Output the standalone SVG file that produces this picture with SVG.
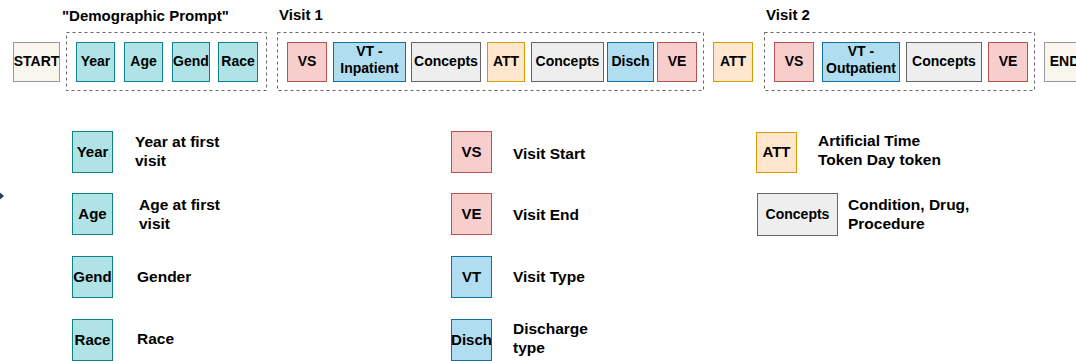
<svg xmlns="http://www.w3.org/2000/svg" width="1076" height="361" viewBox="0 0 1076 361">
<style>
text{font-family:"Liberation Sans",Arial,sans-serif;font-weight:bold;fill:#000}
.lbl{font-size:14px;text-anchor:middle}
.leg{font-size:15px;text-anchor:middle}
.title{font-size:15px}
.desc{font-size:15.5px}
.grp{fill:none;stroke:#666;stroke-width:1;stroke-dasharray:3 3}
.teal{fill:#b0e3e6;stroke:#0e8088}
.red{fill:#f8cecc;stroke:#b85450}
.blue{fill:#b1ddf0;stroke:#10739e}
.orange{fill:#ffe6cc;stroke:#d79b00}
.gray{fill:#eeeeee;stroke:#666666}
.cream{fill:#f9f7ed;stroke:#999999}
</style>
<rect width="1076" height="361" fill="#ffffff"/>
<g id="titles">
<text class="title" x="62" y="21">"Demographic Prompt"</text>
<text class="title" x="279" y="20">Visit 1</text>
<text class="title" x="766" y="20">Visit 2</text>
</g>
<g id="group-demographic"><rect class="grp" x="66.5" y="32.5" width="200" height="58"/></g>
<g id="group-visit1"><rect class="grp" x="277.5" y="32.5" width="426" height="58"/></g>
<g id="group-visit2"><rect class="grp" x="764.5" y="32.5" width="270" height="58"/></g>
<g id="start"><rect class="cream" x="13.5" y="42.5" width="46" height="39"/><text class="lbl" x="36.5" y="66">START</text></g>
<g id="year"><rect class="teal" x="76.5" y="42.5" width="38" height="39"/><text class="lbl" x="95.5" y="66">Year</text></g>
<g id="age"><rect class="teal" x="124.5" y="42.5" width="38" height="39"/><text class="lbl" x="143.5" y="66">Age</text></g>
<g id="gend"><rect class="teal" x="172.5" y="42.5" width="37" height="39"/><text class="lbl" x="191" y="66">Gend</text></g>
<g id="race"><rect class="teal" x="218.5" y="42.5" width="39" height="39"/><text class="lbl" x="238" y="66">Race</text></g>
<g id="v1-vs"><rect class="red" x="287.5" y="42.5" width="39" height="39"/><text class="lbl" x="307" y="66">VS</text></g>
<g id="v1-vt"><rect class="blue" x="333.5" y="42.5" width="72" height="39"/><text class="lbl" x="369.5" y="56">VT -</text><text class="lbl" x="369.5" y="73">Inpatient</text></g>
<g id="v1-concepts1"><rect class="gray" x="411.5" y="42.5" width="69" height="39"/><text class="lbl" x="446" y="66">Concepts</text></g>
<g id="v1-att"><rect class="orange" x="487.5" y="42.5" width="37" height="39"/><text class="lbl" x="506" y="66">ATT</text></g>
<g id="v1-concepts2"><rect class="gray" x="531.5" y="42.5" width="72" height="39"/><text class="lbl" x="567.5" y="66">Concepts</text></g>
<g id="v1-disch"><rect class="blue" x="607.5" y="42.5" width="46" height="39"/><text class="lbl" x="630.5" y="66">Disch</text></g>
<g id="v1-ve"><rect class="red" x="657.5" y="42.5" width="39" height="39"/><text class="lbl" x="677" y="66">VE</text></g>
<g id="att"><rect class="orange" x="713.5" y="42.5" width="39" height="39"/><text class="lbl" x="733" y="66">ATT</text></g>
<g id="v2-vs"><rect class="red" x="774.5" y="42.5" width="39" height="39"/><text class="lbl" x="794" y="66">VS</text></g>
<g id="v2-vt"><rect class="blue" x="822.5" y="42.5" width="77" height="39"/><text class="lbl" x="861" y="56">VT -</text><text class="lbl" x="861" y="73">Outpatient</text></g>
<g id="v2-concepts"><rect class="gray" x="906.5" y="42.5" width="75" height="39"/><text class="lbl" x="944" y="66">Concepts</text></g>
<g id="v2-ve"><rect class="red" x="988.5" y="42.5" width="39" height="39"/><text class="lbl" x="1008" y="66">VE</text></g>
<g id="end"><rect class="cream" x="1044.5" y="42.5" width="40" height="39"/><text class="lbl" x="1064.5" y="66">END</text></g>
<g id="legend-year"><rect class="teal" x="72.5" y="131.5" width="40" height="41"/><text class="leg" x="92.5" y="157">Year</text><text class="desc" x="135" y="147">Year at first</text><text class="desc" x="135" y="166">visit</text></g>
<g id="legend-age"><rect class="teal" x="72.5" y="193.5" width="40" height="41"/><text class="leg" x="92.5" y="219">Age</text><text class="desc" x="139" y="210">Age at first</text><text class="desc" x="139" y="229">visit</text></g>
<g id="legend-gend"><rect class="teal" x="72.5" y="256.5" width="40" height="41"/><text class="leg" x="92.5" y="282">Gend</text><text class="desc" x="137" y="282">Gender</text></g>
<g id="legend-race"><rect class="teal" x="72.5" y="319.5" width="40" height="41"/><text class="leg" x="92.5" y="345">Race</text><text class="desc" x="137" y="344">Race</text></g>
<g id="legend-vs"><rect class="red" x="451.5" y="131.5" width="40" height="41"/><text class="leg" x="471.5" y="157">VS</text><text class="desc" x="513" y="159">Visit Start</text></g>
<g id="legend-ve"><rect class="red" x="451.5" y="193.5" width="40" height="41"/><text class="leg" x="471.5" y="219">VE</text><text class="desc" x="513" y="220">Visit End</text></g>
<g id="legend-vt"><rect class="blue" x="451.5" y="256.5" width="40" height="41"/><text class="leg" x="471.5" y="282">VT</text><text class="desc" x="513" y="282">Visit Type</text></g>
<g id="legend-disch"><rect class="blue" x="451.5" y="319.5" width="40" height="41"/><text class="leg" x="471.5" y="345">Disch</text><text class="desc" x="513" y="334">Discharge</text><text class="desc" x="513" y="353">type</text></g>
<g id="legend-att"><rect class="orange" x="756.5" y="132.5" width="40" height="40"/><text class="leg" x="776.5" y="157">ATT</text><text class="desc" x="818" y="146">Artificial Time</text><text class="desc" x="818" y="165">Token Day token</text></g>
<g id="legend-concepts"><rect class="gray" x="757.5" y="193.5" width="80" height="42"/><text class="lbl" x="797.5" y="219">Concepts</text><text class="desc" x="848" y="210">Condition, Drug,</text><text class="desc" x="848" y="229">Procedure</text></g>
<g id="connectors"><path d="M0,192.5 L4,196 L0,199.5 Z" fill="#23405f"/></g>
</svg>
